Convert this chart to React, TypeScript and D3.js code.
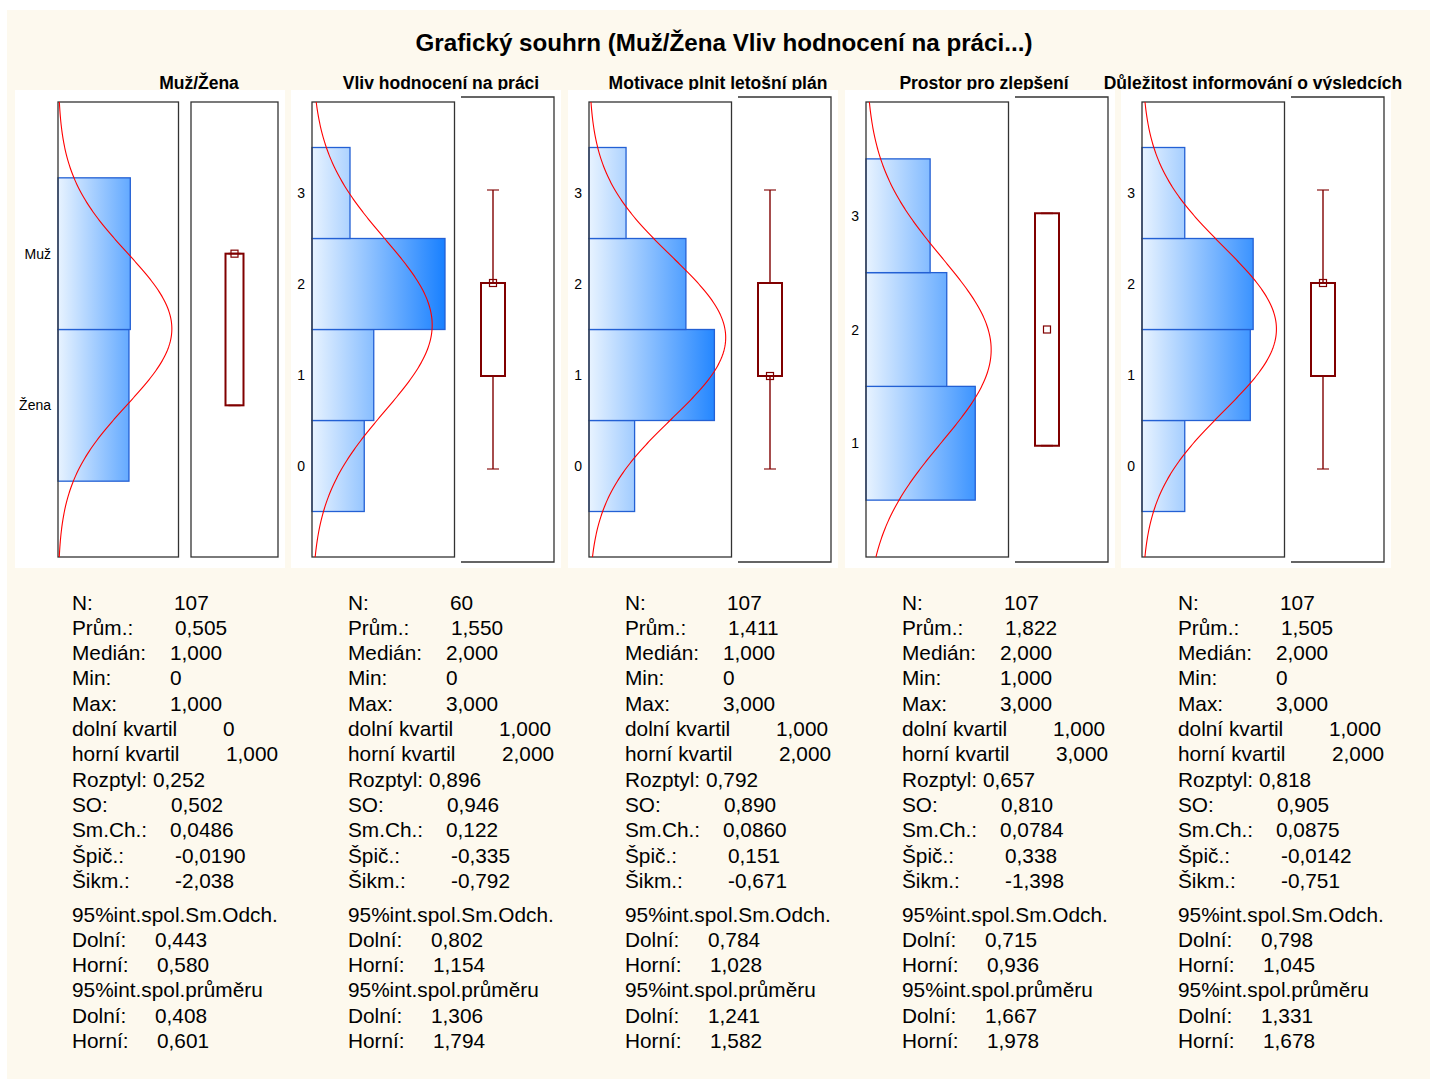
import React from "react";
import * as d3 from "d3";

// ---------- data ----------
const chartTitle = "Grafický souhrn (Muž/Žena Vliv hodnocení na práci...)";
const panelTitles = [
  "Muž/Žena",
  "Vliv hodnocení na práci",
  "Motivace plnit letošní plán",
  "Prostor pro zlepšení",
  "Důležitost informování o výsledcích",
];
const binValues = [[0, 1], [0, 1, 2, 3], [0, 1, 2, 3], [1, 2, 3], [0, 1, 2, 3]];
const binCounts = [[53, 54], [11, 13, 28, 8], [16, 44, 34, 13], [46, 34, 27], [15, 38, 39, 15]];
const tickValues = [[0, 1], [0, 1, 2, 3], [0, 1, 2, 3], [1, 2, 3], [0, 1, 2, 3]];
const tickLabels = [["Žena", "Muž"], ["0", "1", "2", "3"], ["0", "1", "2", "3"], ["1", "2", "3"], ["0", "1", "2", "3"]];
const sampleN = [107, 60, 107, 107, 107];
const means = [0.505, 1.55, 1.411, 1.822, 1.505];
const sds = [0.502, 0.946, 0.89, 0.81, 0.905];
const medians = [1, 2, 1, 2, 2];
const mins = [0, 0, 0, 1, 0];
const maxs = [1, 3, 3, 3, 3];
const q1s = [0, 1, 1, 1, 1];
const q3s = [1, 2, 2, 3, 2];

const statLabels = [
  "N:", "Prům.:", "Medián:", "Min:", "Max:", "dolní kvartil", "horní kvartil",
  "Rozptyl:", "SO:", "Sm.Ch.:", "Špič.:", "Šikm.:",
  "95%int.spol.Sm.Odch.", "Dolní:", "Horní:", "95%int.spol.průměru", "Dolní:", "Horní:",
];
const statValues = [
  ["107", "0,505", "1,000", "0", "1,000", "0", "1,000", "0,252", "0,502", "0,0486", "-0,0190", "-2,038", "", "0,443", "0,580", "", "0,408", "0,601"],
  ["60", "1,550", "2,000", "0", "3,000", "1,000", "2,000", "0,896", "0,946", "0,122", "-0,335", "-0,792", "", "0,802", "1,154", "", "1,306", "1,794"],
  ["107", "1,411", "1,000", "0", "3,000", "1,000", "2,000", "0,792", "0,890", "0,0860", "0,151", "-0,671", "", "0,784", "1,028", "", "1,241", "1,582"],
  ["107", "1,822", "2,000", "1,000", "3,000", "1,000", "3,000", "0,657", "0,810", "0,0784", "0,338", "-1,398", "", "0,715", "0,936", "", "1,667", "1,978"],
  ["107", "1,505", "2,000", "0", "3,000", "1,000", "2,000", "0,818", "0,905", "0,0875", "-0,0142", "-0,751", "", "0,798", "1,045", "", "1,331", "1,678"],
];

// ---------- layout ----------
const W = 1430;
const H = 1079;
const panelLefts = [15, 291, 568, 845, 1121];
const panelW = 270;
const titleXs = [199, 441, 718, 984, 1253];
const valueOffsets = [102, 103, 98, 98, 98, 151, 154, 81, 99, 98, 103, 103, 0, 83, 85, 0, 83, 85];
const FONT = "'Liberation Sans', Arial, Helvetica, sans-serif";
const BOX = "#800000";

function rowY(i: number) {
  return i < 12 ? 602 + 25.3 * i : 914 + 25.3 * (i - 12);
}

function Panel({ i }: { i: number }) {
  const L = panelLefts[i];
  const categorical = tickLabels[i].some((t) => isNaN(+t));
  const vals = binValues[i];
  const counts = binCounts[i];
  const N = sampleN[i];
  const mu = means[i];
  const sd = sds[i];
  const yLo = (d3.min(vals) as number) - 1;
  const yHi = (d3.max(vals) as number) + 1;

  const hx0 = L + (categorical ? 43 : 21);
  const hx1 = L + 163.5;
  const hy0 = 102;
  const hy1 = 557;
  const y = d3.scaleLinear().domain([yLo, yHi]).range([hy1, hy0]);
  const pdf = (v: number) => Math.exp(-0.5 * ((v - mu) / sd) ** 2) / (sd * Math.sqrt(2 * Math.PI));
  const peak = N * pdf(mu);
  const xMax = Math.ceil(Math.max(peak, d3.max(counts) as number) / 10) * 10;
  const x = d3.scaleLinear().domain([0, xMax]).range([hx0, hx1]);
  const samples = d3.range(0, 301).map((k) => yLo + ((yHi - yLo) * k) / 300);
  const curve = d3.line<number>().x((v) => x(N * pdf(v))).y((v) => y(v))(samples) || "";

  // box plot frame
  const bx0 = L + (categorical ? 176 : 170);
  const bx1 = L + 263;
  const by0 = categorical ? 102 : 97;
  const by1 = categorical ? 557 : 562;
  const yb = d3.scaleLinear().domain([yLo, yHi]).range([by1, by0]);
  const cx = categorical ? (bx0 + bx1) / 2 : bx0 + 32;
  const bw = categorical ? 18 : 24;
  const capW = 12;
  const gid = `grad${i}`;

  return (
    <g>
      <rect x={L} y={90} width={panelW} height={478} fill="#ffffff" />
      <defs>
        <linearGradient id={gid} gradientUnits="userSpaceOnUse" x1={hx0} x2={hx1} y1={0} y2={0}>
          <stop offset="0" stopColor="#e8f3ff" />
          <stop offset="1" stopColor="#0a78ff" />
        </linearGradient>
      </defs>
      {vals.map((v, k) => (
        <rect
          key={k}
          x={hx0}
          y={y(v + 0.5)}
          width={x(counts[k]) - hx0}
          height={y(v - 0.5) - y(v + 0.5)}
          fill={`url(#${gid})`}
          stroke="#2360d4"
          strokeWidth={1.3}
        />
      ))}
      <rect x={hx0} y={hy0} width={hx1 - hx0} height={hy1 - hy0} fill="none" stroke="#333" strokeWidth={1.3} />
      <path d={curve} fill="none" stroke="#ff0000" strokeWidth={1.1} />
      {tickValues[i].map((v, k) => (
        <text key={k} x={hx0 - 7} y={y(v)} dominantBaseline="central" textAnchor="end" fontSize={14} fill="#000">
          {tickLabels[i][k]}
        </text>
      ))}
      {categorical ? (
        <rect x={bx0} y={by0} width={bx1 - bx0} height={by1 - by0} fill="none" stroke="#333" strokeWidth={1.3} />
      ) : (
        <path d={`M${bx0},${by0}H${bx1}V${by1}H${bx0}`} fill="none" stroke="#333" strokeWidth={1.3} />
      )}
      {/* whiskers */}
      {maxs[i] > q3s[i] && (
        <line x1={cx} x2={cx} y1={yb(maxs[i])} y2={yb(q3s[i])} stroke={BOX} strokeWidth={1.4} />
      )}
      {mins[i] < q1s[i] && (
        <line x1={cx} x2={cx} y1={yb(q1s[i])} y2={yb(mins[i])} stroke={BOX} strokeWidth={1.4} />
      )}
      <line x1={cx - capW / 2} x2={cx + capW / 2} y1={yb(maxs[i])} y2={yb(maxs[i])} stroke={BOX} strokeOpacity={0.55} strokeWidth={2} />
      <line x1={cx - capW / 2} x2={cx + capW / 2} y1={yb(mins[i])} y2={yb(mins[i])} stroke={BOX} strokeOpacity={0.55} strokeWidth={2} />
      <rect
        x={cx - bw / 2}
        y={yb(q3s[i])}
        width={bw}
        height={yb(q1s[i]) - yb(q3s[i])}
        fill="none"
        stroke={BOX}
        strokeWidth={2}
      />
      <rect x={cx - 3.5} y={yb(medians[i]) - 3.5} width={7} height={7} fill="none" stroke={BOX} strokeWidth={1.2} />
      {/* statistics */}
      {statLabels.map((lab, r) => (
        <g key={r}>
          <text x={L + 57} y={rowY(r)} dominantBaseline="central" fontSize={20.8} fill="#000">
            {lab}
          </text>
          {statValues[i][r] !== "" && (
            <text x={L + 57 + valueOffsets[r]} y={rowY(r)} dominantBaseline="central" fontSize={20.8} fill="#000">
              {statValues[i][r]}
            </text>
          )}
        </g>
      ))}
    </g>
  );
}

export default function App() {
  return (
    <svg
      width={W}
      height={H}
      style={{ position: "absolute", left: 0, top: 0, display: "block" }}
      fontFamily={FONT}
    >
      <rect x={0} y={0} width={W} height={H} fill="#ffffff" />
      <rect x={7} y={10} width={W - 7} height={H - 10} fill="#fdf9ee" />
      <text x={724} y={51} textAnchor="middle" fontSize={24.2} fontWeight="bold" fill="#000">
        {chartTitle}
      </text>
      {panelTitles.map((t, i) => (
        <text key={i} x={titleXs[i]} y={88.5} textAnchor="middle" fontSize={17.5} fontWeight="bold" fill="#000">
          {t}
        </text>
      ))}
      {panelTitles.map((_, i) => (
        <Panel key={i} i={i} />
      ))}
    </svg>
  );
}
